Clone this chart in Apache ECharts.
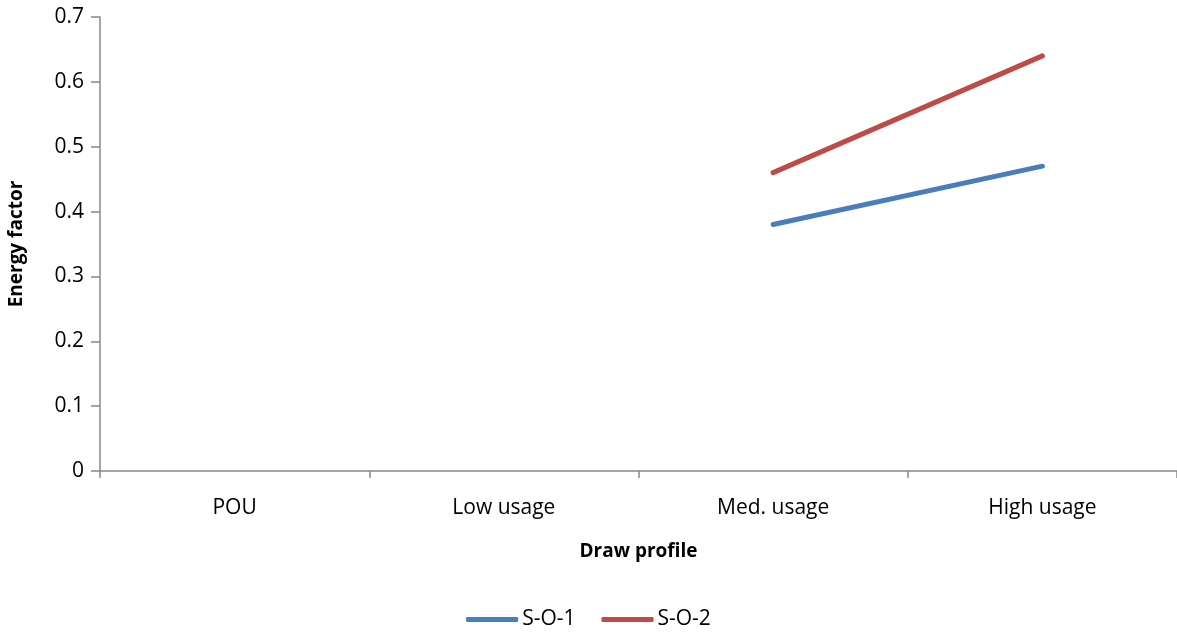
<!DOCTYPE html>
<html><head><meta charset="utf-8">
<script src="https://cdn.jsdelivr.net/npm/echarts@6/dist/echarts.min.js"></script>
<style>html,body{margin:0;padding:0;background:#fff}#c{width:1177px;height:637px}</style>
</head><body><div id="c"></div>
<script>
const categories = ["POU", "Low usage", "Med. usage", "High usage"];
const so1 = [null, null, 0.38, 0.47];
const so2 = [null, null, 0.46, 0.64];
const yTicks = [0, 0.1, 0.2, 0.3, 0.4, 0.5, 0.6, 0.7];

const font = "'Open Sans', 'Liberation Sans', sans-serif";
const chart = echarts.init(document.getElementById('c'), null, {renderer: 'canvas'});
chart.setOption({
  animation: false,
  textStyle: {fontFamily: font},
  grid: {left: 100, right: 0, top: 17, bottom: 166, containLabel: false, outerBoundsMode: 'none'},
  legend: {
    bottom: 2, left: 'center',
    itemWidth: 52, itemHeight: 5, itemGap: 26,
    icon: 'roundRect',
    textStyle: {fontFamily: font, fontSize: 21, color: '#000', padding: [0, 0, 0, -1]},
    data: ['S-O-1', 'S-O-2']
  },
  xAxis: {
    type: 'category', data: categories, boundaryGap: true,
    name: 'Draw profile', nameLocation: 'middle', nameGap: 71,
    nameTextStyle: {fontFamily: font, fontSize: 19, fontWeight: 'bold', color: '#000'},
    axisLine: {lineStyle: {color: '#888', width: 1.5}},
    axisTick: {show: true, length: 7, lineStyle: {color: '#888', width: 1.5}, alignWithLabel: false},
    axisLabel: {fontFamily: font, fontSize: 21, color: '#000', margin: 27}
  },
  yAxis: {
    type: 'value', min: 0, max: 0.7, interval: 0.1,
    name: 'Energy factor', nameLocation: 'middle', nameGap: 74, nameRotate: 90,
    nameTextStyle: {fontFamily: font, fontSize: 19, fontWeight: 'bold', color: '#000'},
    axisLine: {show: true, lineStyle: {color: '#888', width: 1.5}},
    axisTick: {show: true, inside: false, length: 9, lineStyle: {color: '#888', width: 1.5}},
    splitLine: {show: false},
    axisLabel: {fontFamily: font, fontSize: 21, color: '#000', margin: 16,
      formatter: v => { const t = yTicks.find(x => Math.abs(x - v) < 1e-9); return t === 0 ? '0' : String(+t.toFixed(1)); }}
  },
  series: [
    {name: 'S-O-1', type: 'line', data: so1, symbol: 'none', connectNulls: false,
     lineStyle: {color: '#4A7EBB', width: 5, cap: 'round'}, itemStyle: {color: '#4A7EBB'}},
    {name: 'S-O-2', type: 'line', data: so2, symbol: 'none', connectNulls: false,
     lineStyle: {color: '#BE4B48', width: 5, cap: 'round'}, itemStyle: {color: '#BE4B48'}}
  ]
});
</script></body></html>
